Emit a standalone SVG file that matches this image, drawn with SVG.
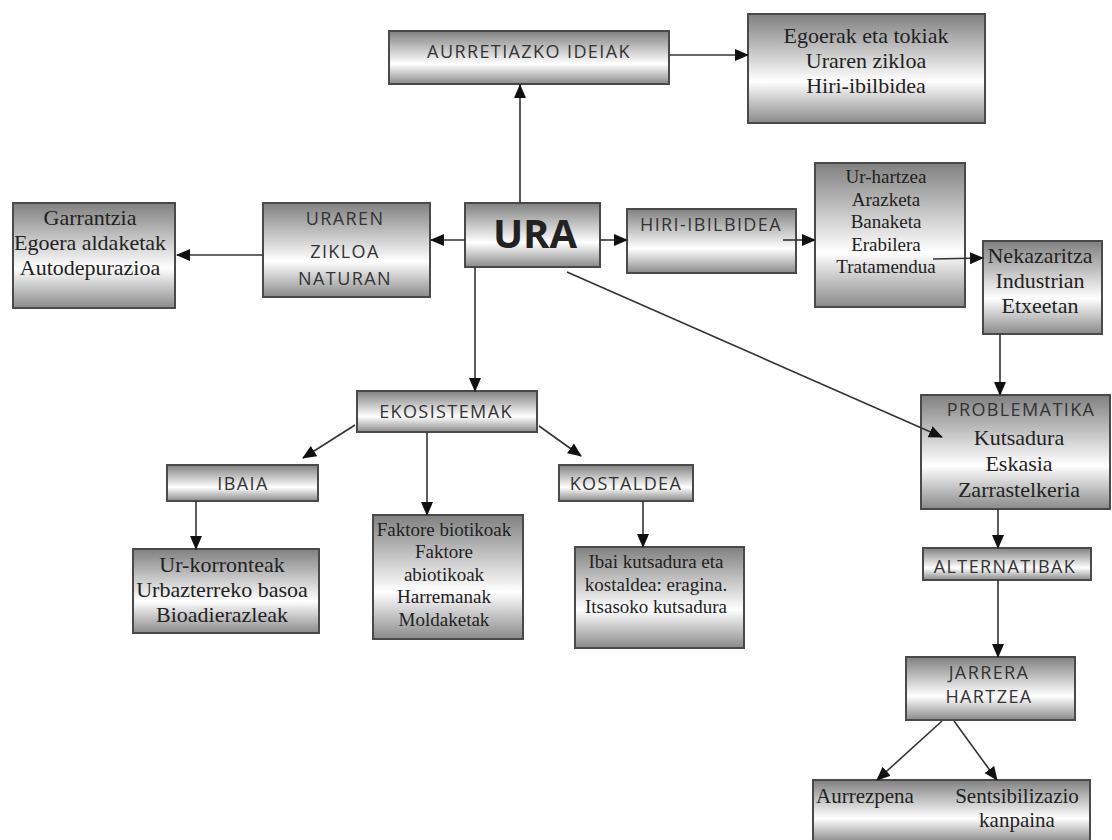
<svg xmlns="http://www.w3.org/2000/svg" width="1112" height="840" viewBox="0 0 1112 840">
<defs>
<linearGradient id="g" x1="0" y1="0" x2="0" y2="1">
<stop offset="0" stop-color="#808080"/>
<stop offset="0.62" stop-color="#ffffff"/>
<stop offset="1" stop-color="#8a8a8a"/>
</linearGradient>
<marker id="ahs" markerWidth="14" markerHeight="14" refX="13" refY="7" orient="auto" markerUnits="userSpaceOnUse" viewBox="0 0 14 14">
<path d="M0,1 L14,7 L0,13 z" fill="#111"/>
</marker>
</defs>
<style>
.box{fill:url(#g);stroke:#4a4a4a;stroke-width:2}
.sans{font-family:"Open Sans","Liberation Sans",sans-serif;font-size:18px;letter-spacing:1.4px;fill:#333;text-anchor:middle}
.serif{font-family:"Liberation Serif","Times New Roman","Tinos","Noto Serif","DejaVu Serif",serif;fill:#222;text-anchor:middle}
.s19{font-size:19px}
.s21{font-size:21px}
.s22{font-size:22px}
.start{text-anchor:start}
.ln{stroke:#333;stroke-width:1.6;fill:none;marker-end:url(#ahs)}
</style>
<rect width="1112" height="840" fill="#fff"/>

<g id="aurretiazko">
<rect class="box" x="389" y="31" width="280" height="53"/>
<text class="sans" x="529" y="58">AURRETIAZKO IDEIAK</text>
</g>
<g id="egoerak">
<rect class="box" x="748" y="14" width="237" height="109"/>
<text class="serif s22" x="866" y="43">Egoerak eta tokiak</text>
<text class="serif s22" x="866" y="68">Uraren zikloa</text>
<text class="serif s22" x="866" y="93">Hiri-ibilbidea</text>
</g>
<g id="garrantzia">
<rect class="box" x="13" y="203" width="162" height="105"/>
<text class="serif s22" x="90" y="225">Garrantzia</text>
<text class="serif s22" x="90" y="250">Egoera aldaketak</text>
<text class="serif s22" x="90" y="275">Autodepurazioa</text>
</g>
<g id="uraren">
<rect class="box" x="263" y="203" width="167" height="94"/>
<text class="sans" x="345" y="225">URAREN</text>
<text class="sans" x="345" y="258">ZIKLOA</text>
<text class="sans" x="345" y="285">NATURAN</text>
</g>
<g id="ura">
<rect class="box" x="465" y="203" width="135" height="64"/>
<text x="535" y="248" text-anchor="middle" font-family="Open Sans, Liberation Sans, sans-serif" font-weight="bold" font-size="40" fill="#222">URA</text>
</g>
<g id="hiri">
<rect class="box" x="627" y="209" width="169" height="64"/>
<text class="sans" x="711" y="231">HIRI-IBILBIDEA</text>
</g>
<g id="urhartzea">
<rect class="box" x="815" y="163" width="150" height="144"/>
<text class="serif s19" x="886" y="183">Ur-hartzea</text>
<text class="serif s19" x="886" y="206">Arazketa</text>
<text class="serif s19" x="886" y="228">Banaketa</text>
<text class="serif s19" x="886" y="251">Erabilera</text>
<text class="serif s19" x="886" y="273">Tratamendua</text>
</g>
<g id="nekazaritza">
<rect class="box" x="983" y="241" width="119" height="93"/>
<text class="serif s22" x="1040" y="263">Nekazaritza</text>
<text class="serif s22" x="1040" y="288">Industrian</text>
<text class="serif s22" x="1040" y="313">Etxeetan</text>
</g>
<g id="ekosistemak">
<rect class="box" x="357" y="391" width="180" height="41"/>
<text class="sans" x="446" y="418">EKOSISTEMAK</text>
</g>
<g id="ibaia">
<rect class="box" x="167" y="465" width="151" height="36"/>
<text class="sans" x="243" y="490">IBAIA</text>
</g>
<g id="kostaldea">
<rect class="box" x="559" y="465" width="134" height="36"/>
<text class="sans" x="626" y="490">KOSTALDEA</text>
</g>
<g id="urkorronteak">
<rect class="box" x="133" y="549" width="186" height="84"/>
<text class="serif s22" x="222" y="572">Ur-korronteak</text>
<text class="serif s22" x="222" y="597">Urbazterreko basoa</text>
<text class="serif s22" x="222" y="622">Bioadierazleak</text>
</g>
<g id="faktore">
<rect class="box" x="373" y="515" width="150" height="124"/>
<text class="serif s19" x="444" y="536">Faktore biotikoak</text>
<text class="serif s19" x="444" y="558">Faktore</text>
<text class="serif s19" x="444" y="581">abiotikoak</text>
<text class="serif s19" x="444" y="603">Harremanak</text>
<text class="serif s19" x="444" y="626">Moldaketak</text>
</g>
<g id="ibai">
<rect class="box" x="575" y="547" width="169" height="101"/>
<text class="serif s19" x="656" y="568">Ibai kutsadura eta</text>
<text class="serif s19" x="656" y="591">kostaldea: eragina.</text>
<text class="serif s19" x="656" y="613">Itsasoko kutsadura</text>
</g>
<g id="problematika">
<rect class="box" x="921" y="395" width="189" height="114"/>
<text class="sans" x="1021" y="416">PROBLEMATIKA</text>
<text class="serif s22" x="1019" y="445">Kutsadura</text>
<text class="serif s22" x="1019" y="471">Eskasia</text>
<text class="serif s22" x="1019" y="497">Zarrastelkeria</text>
</g>
<g id="alternatibak">
<rect class="box" x="923" y="548" width="168" height="32"/>
<text class="sans" x="1005" y="573">ALTERNATIBAK</text>
</g>
<g id="jarrera">
<rect class="box" x="906" y="657" width="169" height="63"/>
<text class="sans" x="989" y="679">JARRERA</text>
<text class="sans" x="989" y="703">HARTZEA</text>
</g>
<g id="aurrezpena">
<rect class="box" x="813" y="780" width="277" height="62"/>
<text class="serif s21 start" x="816" y="803">Aurrezpena</text>
<text class="serif s21" x="1017" y="803">Sentsibilizazio</text>
<text class="serif s21" x="1017" y="827">kanpaina</text>
</g>

<g id="connectors">
<line class="ln" x1="520" y1="203" x2="520" y2="85"/>
<line class="ln" x1="669" y1="55" x2="748" y2="55"/>
<line class="ln" x1="465" y1="240" x2="431" y2="240"/>
<line class="ln" x1="263" y1="255" x2="177" y2="255"/>
<line class="ln" x1="600" y1="240" x2="627" y2="240"/>
<line class="ln" x1="783" y1="240" x2="815" y2="240"/>
<line class="ln" x1="933" y1="259" x2="983" y2="258" stroke-width="1.2"/>
<line class="ln" x1="1000" y1="334" x2="1000" y2="395"/>
<line class="ln" x1="567" y1="272" x2="942" y2="437"/>
<line class="ln" x1="475" y1="267" x2="475" y2="391"/>
<line class="ln" x1="355" y1="425" x2="303" y2="458"/>
<line class="ln" x1="427" y1="432" x2="427" y2="515"/>
<line class="ln" x1="539" y1="426" x2="581" y2="456"/>
<line class="ln" x1="196" y1="501" x2="196" y2="549"/>
<line class="ln" x1="643" y1="501" x2="643" y2="547"/>
<line class="ln" x1="998" y1="509" x2="998" y2="548"/>
<line class="ln" x1="998" y1="580" x2="998" y2="657"/>
<line class="ln" x1="942" y1="721" x2="877" y2="780"/>
<line class="ln" x1="954" y1="721" x2="997" y2="780"/>
</g>
</svg>
